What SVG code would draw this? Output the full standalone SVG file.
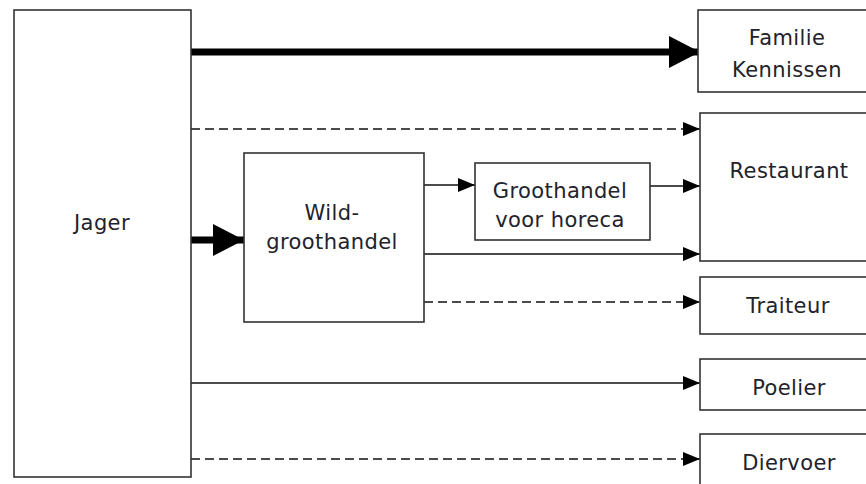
<svg xmlns="http://www.w3.org/2000/svg" width="866" height="484" viewBox="0 0 866 484">
<style>
.box{fill:#fff;stroke:#333;stroke-width:1.6}
.t{font-family:"DejaVu Sans",Verdana,sans-serif;font-size:21px;letter-spacing:0.4px;fill:#22222b;text-anchor:middle}
.ln{stroke:#111;stroke-width:1.6;fill:none}
.dash{stroke-dasharray:9 5}
.thick{stroke:#000;stroke-width:7;fill:none}
</style>
<defs>
<marker id="ah" markerUnits="userSpaceOnUse" markerWidth="18" markerHeight="16" viewBox="0 0 18 16" refX="17" refY="8" orient="auto">
<path d="M0,1 L17,8 L0,15 Z" fill="#000"/>
</marker>
<marker id="big" markerUnits="userSpaceOnUse" markerWidth="32" markerHeight="34" viewBox="0 0 32 34" refX="31" refY="17" orient="auto">
<path d="M0,1 L31,17 L0,33 Z" fill="#000"/>
</marker>
</defs>
<g id="connectors">
<line class="thick" x1="191" y1="52" x2="700" y2="52" marker-end="url(#big)"/>
<line class="thick" x1="191" y1="240" x2="244" y2="240" marker-end="url(#big)"/>
<line class="ln dash" x1="191" y1="129" x2="700" y2="129" marker-end="url(#ah)"/>
<line class="ln" x1="424" y1="185" x2="475" y2="185" marker-end="url(#ah)"/>
<line class="ln" x1="650" y1="186" x2="700" y2="186" marker-end="url(#ah)"/>
<line class="ln" x1="424" y1="254" x2="700" y2="254" marker-end="url(#ah)"/>
<line class="ln dash" x1="424" y1="302" x2="700" y2="302" marker-end="url(#ah)"/>
<line class="ln" x1="191" y1="383" x2="700" y2="383" marker-end="url(#ah)"/>
<line class="ln dash" x1="191" y1="459" x2="700" y2="459" marker-end="url(#ah)"/>
</g>
<g id="jager"><rect class="box" x="14" y="10" width="177" height="467"/><text class="t" x="102" y="230">Jager</text></g>
<g id="familie"><rect class="box" x="698" y="10" width="180" height="82"/><text class="t" x="787" y="45">Familie</text><text class="t" x="787" y="77">Kennissen</text></g>
<g id="restaurant"><rect class="box" x="700" y="113" width="180" height="148"/><text class="t" x="789" y="178">Restaurant</text></g>
<g id="wild"><rect class="box" x="244" y="153" width="180" height="169"/><text class="t" x="332" y="220">Wild-</text><text class="t" x="332" y="249">groothandel</text></g>
<g id="horeca"><rect class="box" x="475" y="163" width="175" height="77"/><text class="t" x="560" y="198">Groothandel</text><text class="t" x="560" y="227">voor horeca</text></g>
<g id="traiteur"><rect class="box" x="700" y="277" width="180" height="57"/><text class="t" x="788" y="313">Traiteur</text></g>
<g id="poelier"><rect class="box" x="700" y="359" width="180" height="51"/><text class="t" x="789" y="395">Poelier</text></g>
<g id="diervoer"><rect class="box" x="700" y="434" width="180" height="60"/><text class="t" x="789" y="470">Diervoer</text></g>
</svg>
